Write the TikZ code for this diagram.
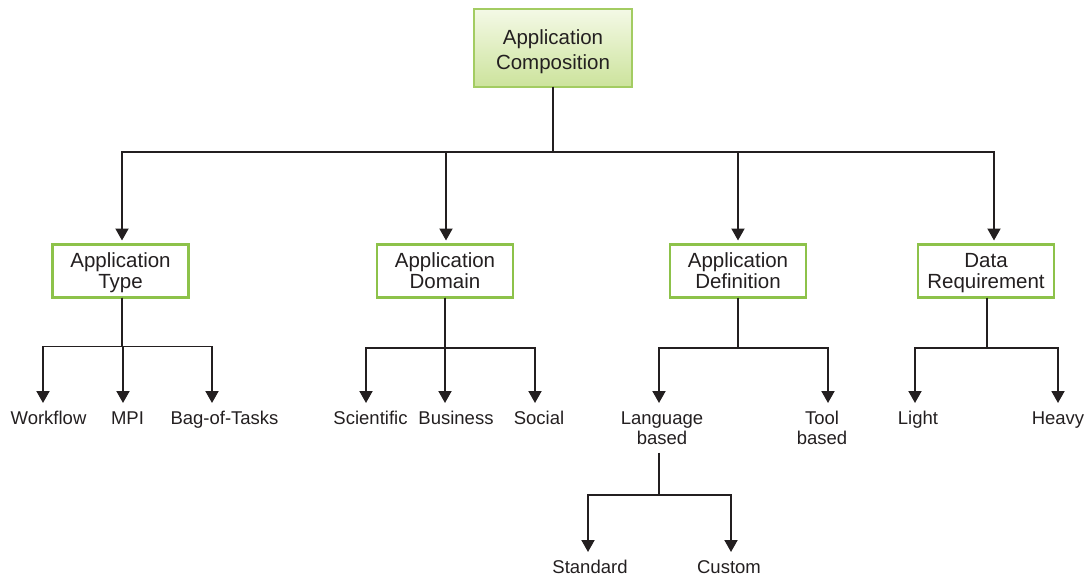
\documentclass[tikz,border=0pt]{standalone}
\usepackage{fontspec}
\setmainfont{Liberation Sans}
\usetikzlibrary{arrows.meta,shadings}
\definecolor{ink}{HTML}{231F20}
\definecolor{boxgreen}{HTML}{8DC24A}
\definecolor{rootline}{HTML}{A3CC62}
\definecolor{rootTop}{HTML}{F4F9E6}
\definecolor{rootBot}{HTML}{CCE39C}
% two centred lines, drawn a little lower than their reported box
\newcommand{\boxlines}[2]{\raisebox{-#1}[\height][\depth]{\begin{tabular}{@{}c@{}}#2\end{tabular}}}
\tikzset{
  conn/.style={draw=ink, line width=1.9pt},
  arr/.style={conn, -{Triangle[width=13pt,length=12pt]}},
  rootbox/.style={draw=rootline, line width=2.4pt, top color=rootTop, bottom color=rootBot,
    minimum width=158pt, minimum height=78pt, inner sep=0pt, outer sep=0pt,
    text=ink, font=\fontsize{20.5}{25}\selectfont},
  catbox/.style={draw=boxgreen, line width=2.4pt, fill=white,
    minimum width=136pt, minimum height=53pt, inner sep=0pt, outer sep=0pt,
    text=ink, font=\fontsize{20.5}{21}\selectfont},
  leaf/.style={anchor=north, inner sep=0pt, outer xsep=0pt, outer ysep=8.5pt, align=center,
    text=ink, font=\fontsize{18.5}{20}\selectfont},
}
\begin{document}
\begin{tikzpicture}[x=1pt, y=-1pt]
\useasboundingbox (0,0) rectangle (1085,578);

% root and category boxes
\node[rootbox] (root) at (553,48) {\boxlines{4pt}{Application\\Composition}};
\node[catbox] (type) at (120.5,271) {\boxlines{2.5pt}{Application\\Type}};
\node[catbox] (dom)  at (445,271) {\boxlines{2.5pt}{Application\\Domain}};
\node[catbox] (def)  at (738,271) {\boxlines{2.5pt}{Application\\Definition}};
\node[catbox] (data) at (986,271) {\boxlines{2.5pt}{Data\\Requirement}};

% leaves
\node[leaf] (wf)   at (48.5,403) {Workflow};
\node[leaf] (mpi)  at (127.5,403) {MPI};
\node[leaf] (bot)  at (224.5,403) {Bag-of-Tasks};
\node[leaf] (sci)  at (370.5,403) {Scientific};
\node[leaf] (bus)  at (456,403) {Business};
\node[leaf] (soc)  at (539,403) {Social};
\node[leaf] (lang) at (662,403) {Language\\based};
\node[leaf] (tool) at (822,403) {Tool\\based};
\node[leaf] (lig)  at (918,403) {Light};
\node[leaf] (hea)  at (1058,403) {Heavy};
\node[leaf] (std)  at (590,552) {Standard};
\node[leaf] (cus)  at (729,552) {Custom};

% top level
\draw[arr] (root.south) -- ++(0,65) -| ([xshift=1.5pt,yshift=4pt]type.north);
\draw[arr] (root.south) -- ++(0,65) -| ([xshift=1pt,yshift=4pt]dom.north);
\draw[arr] (root.south) -- ++(0,65) -| ([yshift=4pt]def.north);
\draw[arr] (root.south) -- ++(0,65) -| ([xshift=8pt,yshift=4pt]data.north);

% application type
\draw[arr] ([xshift=1.5pt]type.south) -- ++(0,49) -| ([xshift=-5.5pt]wf.north);
\draw[arr] ([xshift=1.5pt]type.south) -- ++(0,49) -| ([xshift=-4.5pt]mpi.north);
\draw[arr] ([xshift=1.5pt]type.south) -- ++(0,49) -| ([xshift=-12.5pt]bot.north);

% application domain
\draw[arr] (dom.south) -- ++(0,50.5) -| ([xshift=-4.5pt]sci.north);
\draw[arr] (dom.south) -- ++(0,50.5) -| ([xshift=-11pt]bus.north);
\draw[arr] (dom.south) -- ++(0,50.5) -| ([xshift=-4pt]soc.north);

% application definition
\draw[arr] (def.south) -- ++(0,50.5) -| ([xshift=-3pt]lang.north);
\draw[arr] (def.south) -- ++(0,50.5) -| ([xshift=6pt]tool.north);

% data requirement
\draw[arr] ([xshift=1pt]data.south) -- ++(0,50.5) -| ([xshift=-3pt]lig.north);
\draw[arr] ([xshift=1pt]data.south) -- ++(0,50.5) -| (hea.north);

% language based
\draw[arr] ([xshift=-3pt]lang.south) -- ++(0,42.5) -| ([xshift=-2pt]std.north);
\draw[arr] ([xshift=-3pt]lang.south) -- ++(0,42.5) -| ([xshift=2pt]cus.north);
\end{tikzpicture}
\end{document}
